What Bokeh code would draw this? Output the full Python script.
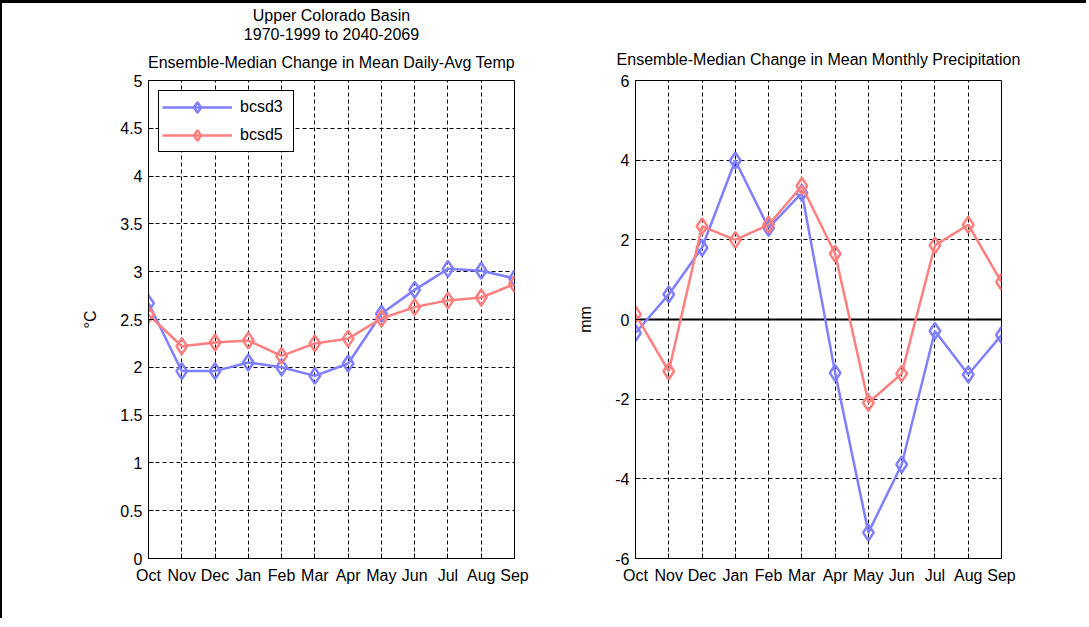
from bokeh.plotting import figure
from bokeh.models import Title, Span, FixedTicker
from bokeh.layouts import row
from bokeh.embed import file_html
from bokeh.resources import INLINE

# ---------------- data ----------------
months = ["Oct", "Nov", "Dec", "Jan", "Feb", "Mar", "Apr", "May", "Jun", "Jul", "Aug", "Sep"]
series_names = ["bcsd3", "bcsd5"]

temp_bcsd3 = [2.67, 1.96, 1.96, 2.05, 2.00, 1.91, 2.04, 2.56, 2.81, 3.03, 3.01, 2.93]
temp_bcsd5 = [2.55, 2.22, 2.26, 2.28, 2.12, 2.25, 2.30, 2.51, 2.63, 2.70, 2.73, 2.87]

precip_bcsd3 = [-0.34, 0.63, 1.80, 3.99, 2.30, 3.18, -1.34, -5.35, -3.64, -0.29, -1.38, -0.39]
precip_bcsd5 = [0.13, -1.30, 2.34, 2.00, 2.38, 3.35, 1.65, -2.09, -1.36, 1.86, 2.38, 0.94]

temp_ticks = [0, 0.5, 1, 1.5, 2, 2.5, 3, 3.5, 4, 4.5, 5]
precip_ticks = [-6, -4, -2, 0, 2, 4, 6]

left_titles = ["Upper Colorado Basin", "1970-1999 to 2040-2069",
               "Ensemble-Median Change in Mean Daily-Avg Temp"]
right_titles = ["Ensemble-Median Change in Mean Monthly Precipitation"]

# ---------------- style ----------------
FONT = "Liberation Sans"
FS = "16px"
BLUE = "#7f7fff"
RED = "#ff7f7f"
x_idx = list(range(len(months)))


def make_fig(ylo, yhi, yticks, ylabel, titles, standoffs, min_left, min_right):
    p = figure(frame_width=366, frame_height=478,
               x_range=(x_idx[0], x_idx[-1]), y_range=(ylo, yhi),
               output_backend="svg", toolbar_location=None,
               min_border_left=min_left, min_border_right=min_right,
               min_border_top=77, min_border_bottom=60,
               background_fill_color="white", border_fill_color="white")
    p.outline_line_color = "black"
    p.outline_line_width = 1
    p.outline_line_alpha = 1

    # title lines: first added sits closest to the frame
    for t, s in zip(reversed(titles), standoffs):
        p.add_layout(Title(text=t, align="center", text_font=FONT,
                           text_font_size=FS, text_font_style="normal",
                           text_color="black", standoff=s), "above")

    p.xaxis.ticker = FixedTicker(ticks=x_idx)
    p.xaxis.major_label_overrides = {i: m for i, m in zip(x_idx, months)}
    p.yaxis.ticker = FixedTicker(ticks=yticks)
    p.yaxis.major_label_overrides = {t: f"{t:g}" for t in yticks}

    for ax in (p.xaxis[0], p.yaxis[0]):
        ax.axis_line_color = "black"
        ax.axis_line_width = 1
        ax.major_tick_in = 5
        ax.major_tick_out = 0
        ax.minor_tick_line_color = None
        ax.major_tick_line_color = "black"
        ax.major_label_text_font = FONT
        ax.major_label_text_font_size = FS
        ax.major_label_text_color = "black"
    p.xaxis.major_label_standoff = 8
    p.yaxis.major_label_standoff = 6
    p.yaxis.axis_label = ylabel
    p.yaxis.axis_label_text_font = FONT
    p.yaxis.axis_label_text_font_size = FS
    p.yaxis.axis_label_text_font_style = "normal"
    p.yaxis.axis_label_text_color = "black"
    p.yaxis.axis_label_standoff = 18

    for g in (p.xgrid[0], p.ygrid[0]):
        g.grid_line_color = "black"
        g.grid_line_alpha = 1
        g.grid_line_width = 1
        g.grid_line_dash = "4 3"
    p.xgrid.ticker = FixedTicker(ticks=x_idx)
    p.ygrid.ticker = FixedTicker(ticks=yticks)
    return p


def add_series(p, ys, color, name, legend):
    kw = {"legend_label": name} if legend else {}
    p.line(x_idx, ys, line_color=color, line_width=2.5, **kw)
    p.scatter(x_idx, ys, marker="diamond", size=16, line_color=color,
              line_width=2.5, fill_color=None, **kw)


# left: temperature
p1 = make_fig(0, 5, temp_ticks, "°C", left_titles, [19, 0, 0], 146, 60)
add_series(p1, temp_bcsd3, BLUE, series_names[0], True)
add_series(p1, temp_bcsd5, RED, series_names[1], True)
lg = p1.legend[0]
lg.location = "top_left"
lg.margin = 10
lg.padding = 3
lg.spacing = 2
lg.glyph_width = 70
lg.glyph_height = 26
lg.label_height = 26
lg.label_width = 50
lg.label_standoff = 8
lg.label_text_font = FONT
lg.label_text_font_size = FS
lg.label_text_color = "black"
lg.border_line_color = "black"
lg.border_line_width = 1
lg.border_line_alpha = 1
lg.background_fill_color = "white"
lg.background_fill_alpha = 1

# right: precipitation
p2 = make_fig(-6, 6, precip_ticks, "mm", right_titles, [26], 56, 85)
p2.add_layout(Span(location=0, dimension="width", line_color="black",
                   line_width=2, level="underlay"))
add_series(p2, precip_bcsd3, BLUE, series_names[0], False)
add_series(p2, precip_bcsd5, RED, series_names[1], False)

layout = row(p1, p2, styles={"border-top": "3px solid black",
                              "border-left": "2px solid black"})

open("out.html", "w").write(file_html(layout, INLINE))
